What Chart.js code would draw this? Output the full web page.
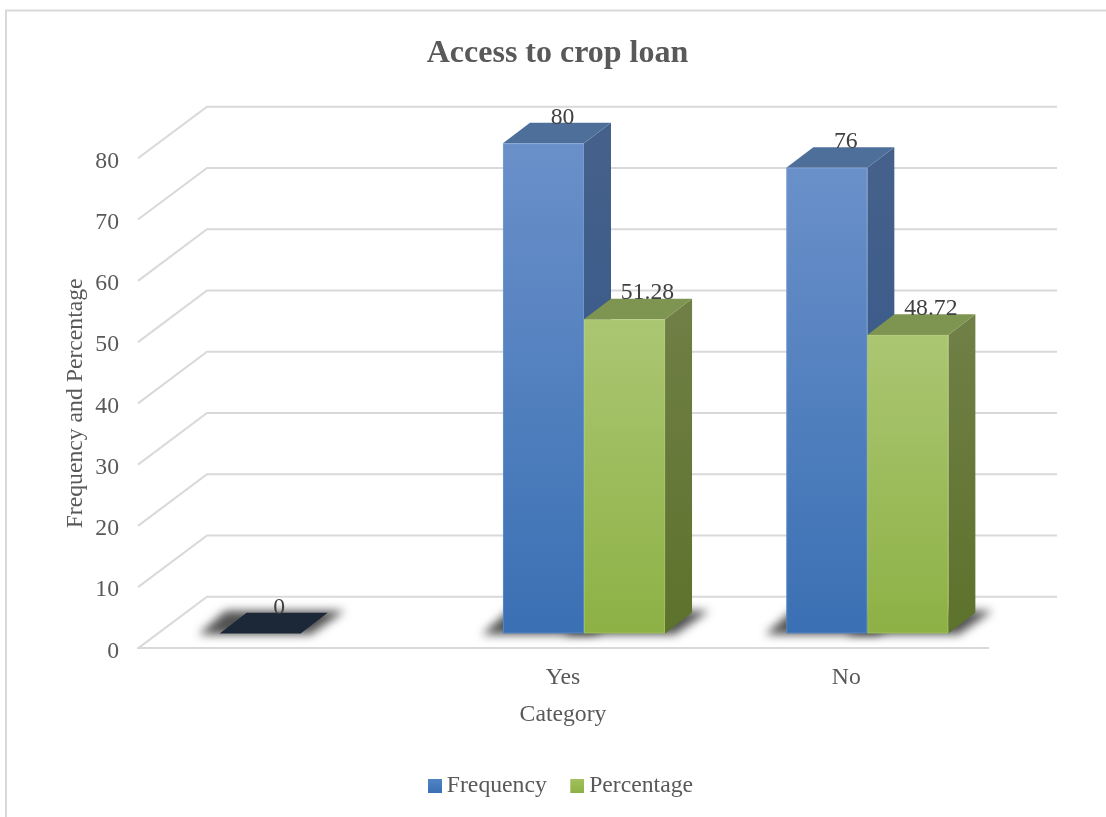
<!DOCTYPE html>
<html>
<head>
<meta charset="utf-8">
<title>Access to crop loan</title>
<script src="https://cdn.jsdelivr.net/npm/chart.js@4"></script>
<style>
  html, body { margin: 0; padding: 0; background: #fff; overflow: hidden; }
  canvas { display: block; }
</style>
</head>
<body>
<canvas id="chart" width="1106" height="817"></canvas>
<script>
const categories = ["", "Yes", "No"];
const frequency = [0, 80, 76];
const percentage = [null, 51.28, 48.72];
const seriesNames = ["Frequency", "Percentage"];

const FONT = "'Liberation Serif', 'Times New Roman', serif";
const GRID = "#d9d9d9";
const WALL_DX = 69, WALL_DY = -51.6;   // how far the back wall sits behind the front axis
const BAR_DX = 21, BAR_DY = -15;       // bars stand a little way in from the front edge
const BAR_DEPTH_X = 27, BAR_DEPTH_Y = -20.6;

const looks = [
  { frontTop: "#6a90c9", frontBottom: "#3a70b4", sideTop: "#45618b", sideBottom: "#2e5488", top: "#4f6f9b", zeroTop: "#1c2838", edge: "rgba(150,185,230,.3)", legendTop: "#4f84c4", legendBottom: "#3a70b4", labelDx: 19 },
  { frontTop: "#abc672", frontBottom: "#8db145", sideTop: "#6f7f45", sideBottom: "#5d722c", top: "#7e9552", zeroTop: "#3a4a20", edge: "rgba(200,220,150,.3)", legendTop: "#a2c05e", legendBottom: "#8db145", labelDx: 23 }
];

function poly(ctx, pts, fill) {
  ctx.beginPath();
  pts.forEach((p, i) => i ? ctx.lineTo(p[0], p[1]) : ctx.moveTo(p[0], p[1]));
  ctx.closePath();
  ctx.fillStyle = fill;
  ctx.fill();
}

function vGradient(ctx, y0, y1, c0, c1) {
  const g = ctx.createLinearGradient(0, y0, 0, y1);
  g.addColorStop(0, c0);
  g.addColorStop(1, c1);
  return g;
}

// the legend draws its point image centred on half of pointStyleWidth,
// so the square goes in the right part of a wider sprite
function legendSwatch(look) {
  const c = document.createElement("canvas");
  c.width = 21;
  c.height = 14;
  const ctx = c.getContext("2d");
  ctx.fillStyle = vGradient(ctx, 0, 14, look.legendTop, look.legendBottom);
  ctx.fillRect(7, 0, 14, 14);
  return c;
}
const swatches = looks.map(legendSwatch);

// back wall lines, side wall diagonals
const wallPlugin = {
  id: "wall",
  beforeDatasetsDraw(chart) {
    const { ctx, chartArea, scales } = chart;
    ctx.save();
    ctx.strokeStyle = GRID;
    ctx.lineWidth = 2;
    scales.y.ticks.forEach(t => {
      const y = scales.y.getPixelForValue(t.value);
      ctx.beginPath();
      ctx.moveTo(chartArea.left, y);
      ctx.lineTo(chartArea.left + WALL_DX, y + WALL_DY);
      ctx.lineTo(chartArea.right + WALL_DX, y + WALL_DY);
      ctx.stroke();
    });
    ctx.restore();
  }
};

function eachBar(chart, fn) {
  chart.data.datasets.forEach((ds, d) => {
    chart.getDatasetMeta(d).data.forEach((el, i) => {
      const v = ds.data[i];
      if (v === null) return;
      const p = el.getProps(["x", "y", "base", "width"], true);
      fn({
        value: v,
        look: looks[d],
        left: p.x - p.width / 2 + BAR_DX,
        right: p.x + p.width / 2 + BAR_DX,
        top: p.y + BAR_DY,
        bottom: p.base + BAR_DY
      });
    });
  });
}

function drawShadow(ctx, b) {
  ctx.save();
  ctx.filter = "blur(5px)";
  poly(ctx, [
    [b.left - 21, b.bottom + 1],
    [b.left - 21 + BAR_DEPTH_X, b.bottom + BAR_DEPTH_Y - 2],
    [b.right + BAR_DEPTH_X + 17, b.bottom + BAR_DEPTH_Y - 2],
    [b.right + 10, b.bottom + 1]
  ], "rgba(50,50,50,.85)");
  ctx.restore();
}

function drawBox(ctx, b) {
  const { left, right, top, bottom, look } = b;
  const dx = BAR_DEPTH_X, dy = BAR_DEPTH_Y;
  if (b.value === 0) {
    poly(ctx, [[left, bottom], [left + dx, bottom + dy], [right + dx, bottom + dy], [right, bottom]], look.zeroTop);
    return;
  }
  poly(ctx, [[right, top], [right + dx, top + dy], [right + dx, bottom + dy], [right, bottom]],
    vGradient(ctx, top, bottom, look.sideTop, look.sideBottom));
  poly(ctx, [[left, top], [left + dx, top + dy], [right + dx, top + dy], [right, top]], look.top);
  ctx.fillStyle = vGradient(ctx, top, bottom, look.frontTop, look.frontBottom);
  ctx.fillRect(left, top, right - left, bottom - top);
  ctx.strokeStyle = look.edge;
  ctx.lineWidth = 1;
  ctx.strokeRect(left + 0.5, top + 0.5, right - left - 1, bottom - top - 1);
}

function drawValue(ctx, b) {
  ctx.fillStyle = "#404040";
  ctx.font = "23.7px " + FONT;
  ctx.textAlign = "center";
  ctx.textBaseline = "middle";
  ctx.fillText(String(b.value), (b.left + b.right) / 2 + b.look.labelDx, b.top - 26);
}

// replaces the flat bars with boxes, then prints the values on top
const boxPlugin = {
  id: "boxes",
  beforeDatasetsDraw(chart) {
    const { ctx } = chart;
    const bars = [];
    eachBar(chart, b => bars.push(b));
    ctx.save();
    bars.forEach(b => drawShadow(ctx, b));
    bars.forEach(b => drawBox(ctx, b));
    bars.forEach(b => drawValue(ctx, b));
    ctx.restore();
    return false;
  }
};

const framePlugin = {
  id: "frame",
  // legend sits slightly right of the title
  afterLayout(chart) {
    chart.legend.left += 3;
    chart.legend.right += 3;
  },
  beforeDraw(chart) {
    const { ctx, width, height } = chart;
    ctx.save();
    ctx.fillStyle = "#fff";
    ctx.fillRect(0, 0, width, height);
    ctx.strokeStyle = GRID;
    ctx.lineWidth = 2;
    ctx.beginPath();
    ctx.moveTo(6, height);
    ctx.lineTo(6, 10.5);
    ctx.lineTo(width, 10.5);
    ctx.stroke();
    ctx.restore();
  }
};

const axisFont = { family: FONT, size: 23.7 };

new Chart(document.getElementById("chart"), {
  type: "bar",
  plugins: [framePlugin, wallPlugin, boxPlugin],
  data: {
    labels: categories,
    datasets: [
      { label: seriesNames[0], data: frequency, backgroundColor: "#3a70b4" },
      { label: seriesNames[1], data: percentage, backgroundColor: "#8db145" }
    ]
  },
  options: {
    responsive: false,
    animation: false,
    layout: { padding: { left: 9, right: 0, top: 0, bottom: 9 } },
    datasets: { bar: { categoryPercentage: 0.572, barPercentage: 1 } },
    scales: {
      x: {
        grid: { display: false },
        border: { display: true, color: GRID, width: 2 },
        ticks: { color: "#595959", font: axisFont, padding: 7, maxRotation: 0 },
        title: { display: true, text: "Category", color: "#595959", font: axisFont, padding: { top: 0, bottom: 22 } },
        afterFit(scale) { scale.height = 102.4; }
      },
      y: {
        min: 0,
        max: 80,
        grid: { display: false },
        border: { display: false },
        ticks: { stepSize: 10, color: "#595959", font: axisFont, padding: 11, labelOffset: 3 },
        title: { display: true, text: "Frequency and Percentage", color: "#595959", font: axisFont, padding: { top: 53, bottom: 0 } },
        afterFit(scale) { scale.width = 129; }
      },
      // empty axis on the right, keeps the floor short of the wall's overhang
      depth: {
        position: "right",
        grid: { display: false },
        border: { display: false },
        ticks: { display: false },
        afterFit(scale) { scale.width = 118; }
      }
    },
    plugins: {
      title: {
        display: true,
        text: "Access to crop loan",
        color: "#595959",
        font: { family: FONT, size: 32, weight: "bold" },
        padding: { top: 35, bottom: 84.9 }
      },
      legend: {
        position: "bottom",
        labels: {
          color: "#595959",
          font: axisFont,
          padding: 23.5,
          usePointStyle: true,
          pointStyleWidth: 7,
          boxHeight: 14,
          generateLabels(chart) {
            return chart.data.datasets.map((ds, i) => ({
              text: ds.label,
              fontColor: "#595959",
              fillStyle: ds.backgroundColor,
              lineWidth: 0,
              pointStyle: swatches[i],
              datasetIndex: i
            }));
          }
        }
      },
      tooltip: { enabled: false }
    }
  }
});
</script>
</body>
</html>
